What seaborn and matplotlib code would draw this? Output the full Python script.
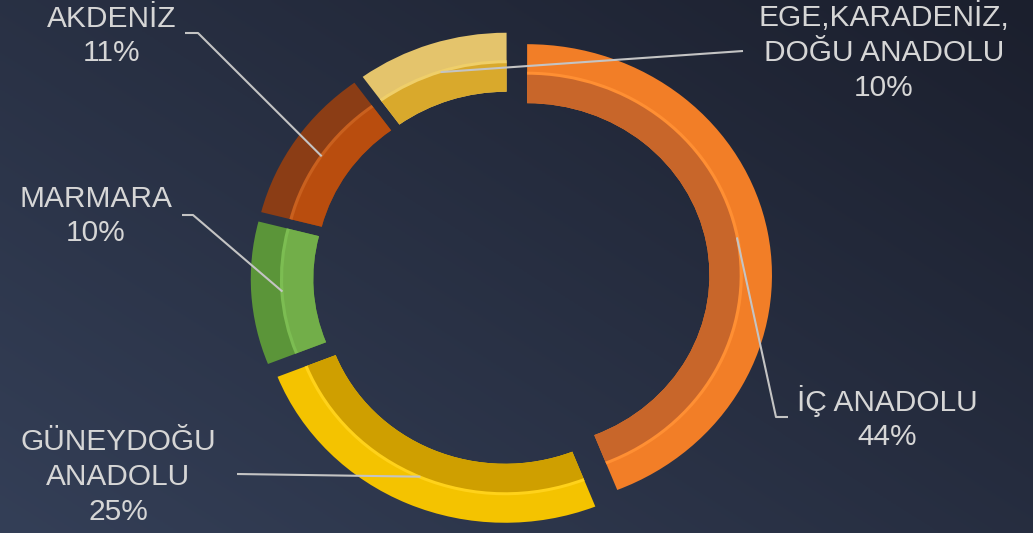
import numpy as np
import matplotlib
matplotlib.use("Agg")
import matplotlib.pyplot as plt
import seaborn as sns

# ---- data ----
regions = ["İÇ ANADOLU", "GÜNEYDOĞU\nANADOLU", "MARMARA", "AKDENİZ", "EGE,KARADENİZ,\nDOĞU ANADOLU"]
shares = [44, 25, 10, 11, 10]
pct_labels = ["44%", "25%", "10%", "11%", "10%"]

# ---- styles ----
outer_colors = ["#f27e27", "#f4c300", "#5b9539", "#8b3d15", "#e4c46c"]
inner_colors = ["#c8662a", "#cf9f00", "#72ae49", "#b94d0e", "#d9a92c"]
edge_colors = ["#ff8f33", "#ffd21a", "#7cbd52", "#c9601e", "#efcf6a"]

sns.set_theme(style="dark")
plt.rcParams['font.family'] = ['Liberation Sans', 'DejaVu Sans']

W_PX, H_PX = 1033, 533
fig = plt.figure(figsize=(W_PX / 100, H_PX / 100), dpi=100)

# background gradient
bg = fig.add_axes([0, 0, 1, 1])
xx, yy = np.meshgrid(np.linspace(0, 1, 400), np.linspace(0, 1, 200))
t = np.clip(0.55 * (1 - xx) + 0.45 * yy, 0, 1)
dark = np.array([27, 31, 45]) / 255
light = np.array([52, 63, 87]) / 255
img = dark[None, None, :] * (1 - t[..., None]) + light[None, None, :] * t[..., None]
bg.imshow(img, aspect="auto", extent=[0, W_PX, H_PX, 0])
bg.set_xlim(0, W_PX); bg.set_ylim(H_PX, 0)
bg.axis("off")

# donut axes
S = 1.06          # horizontal stretch (px per data unit)
CX, CY = 511.5, 278.0   # ring centre in pixels
R, WD, E = 231, 59, 15

ax = fig.add_axes([0, 0, 1, 1])
ax.patch.set_alpha(0)
explode = [E] * len(shares)
common = dict(startangle=90, counterclock=False, explode=explode)
ax.pie(shares, radius=R, colors=outer_colors, wedgeprops=dict(width=WD, linewidth=0), **common)
ax.pie(shares, radius=R - WD * 0.5, colors=inner_colors,
       wedgeprops=dict(width=WD * 0.5, linewidth=0), **common)
ax.pie(shares, radius=R - WD * 0.5 + 2, colors=edge_colors,
       wedgeprops=dict(width=3, linewidth=0), **common)
ax.set_aspect("auto")
ax.set_xlim(-CX / S, (W_PX - CX) / S)
ax.set_ylim(-(H_PX - CY), CY)
ax.axis("off")


def px2d(px, py):
    return (px - CX) / S, CY - py


# label layout (pixel positions of text centre and leader start)
label_pos = [(887, 418), (118, 477), (96, 216), (112, 36), (884, 52)]
leader_start = [[(788, 417), (776, 417)], [(237, 474)], [(182, 215), (193, 215)],
                [(185, 33), (198, 33)], [(743, 51)]]

total = sum(shares)
cum = 0
for i, v in enumerate(shares):
    mid = np.deg2rad(90 - 360 * (cum + v / 2) / total)
    cum += v
    r_end = R - WD / 2 + E
    end = (r_end * np.cos(mid), r_end * np.sin(mid))
    pts = [px2d(*p) for p in leader_start[i]] + [end]
    xs, ys = zip(*pts)
    ax.plot(xs, ys, color="#c4c4c4", lw=1.5, solid_capstyle="butt", zorder=5)
    lx, ly = px2d(*label_pos[i])
    ax.text(lx, ly, regions[i] + "\n" + pct_labels[i], ha="center", va="center",
            fontsize=21.5, color="#d6d6d6", linespacing=1.3, zorder=6)

fig.savefig("out.png", dpi=100)
